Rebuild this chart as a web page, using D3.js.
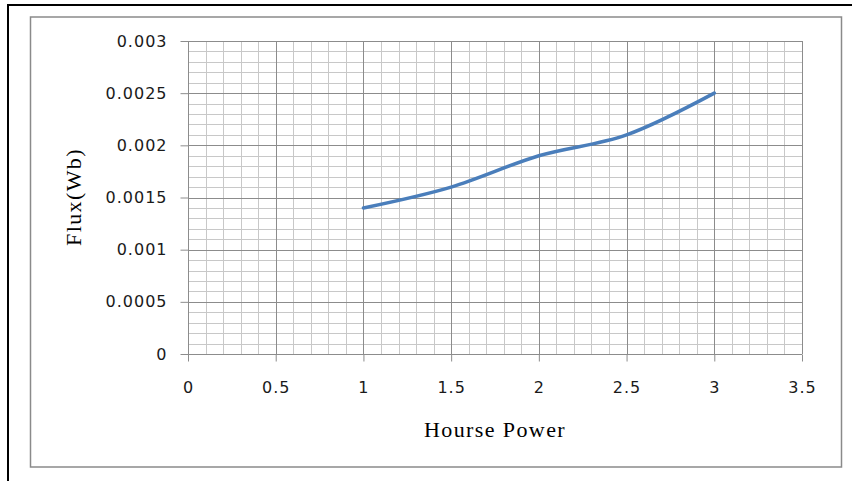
<!DOCTYPE html>
<html><head><meta charset="utf-8">
<script src="https://cdn.jsdelivr.net/npm/d3@7"></script>
<style>html,body{margin:0;padding:0;background:#fff;}svg{display:block;}</style>
</head><body>
<svg id="c" width="852" height="481"></svg>
<script>
const horsePower = [1, 1.5, 2, 2.5, 3];
const flux = [0.0014, 0.0016, 0.0019, 0.0021, 0.0025];
const xTicks = [0, 0.5, 1, 1.5, 2, 2.5, 3, 3.5];
const yTicks = [0, 0.0005, 0.001, 0.0015, 0.002, 0.0025, 0.003];
const xTitle = "Hourse Power";
const yTitle = "Flux(Wb)";

const svg = d3.select("#c");
// outer frame lines
svg.append("line").attr("x1",7).attr("x2",852).attr("y1",5).attr("y2",5).attr("stroke","#000").attr("stroke-width",2);
svg.append("line").attr("x1",8).attr("x2",8).attr("y1",4).attr("y2",481).attr("stroke","#000").attr("stroke-width",2);
// chart area border
svg.append("rect").attr("x",30.5).attr("y",17).attr("width",811).attr("height",450)
  .attr("fill","#fff").attr("stroke","#8a8a8a").attr("stroke-width",1.5);

const x = d3.scaleLinear().domain([0,3.5]).range([188,802]);
const y = d3.scaleLinear().domain([0,0.003]).range([354,41]);

const g = svg.append("g");
// minor grid
const xMinor = d3.range(0, 36).map(i => i/10);
const yMinor = d3.range(0, 31).map(i => i/10000);
g.selectAll(".vm").data(xMinor).join("line")
  .attr("x1", d=>Math.round(x(d))+0.5).attr("x2", d=>Math.round(x(d))+0.5)
  .attr("y1", y(0)).attr("y2", y(0.003)).attr("stroke","#c8c8c8").attr("stroke-width",1);
g.selectAll(".hm").data(yMinor).join("line")
  .attr("y1", d=>Math.round(y(d))+0.5).attr("y2", d=>Math.round(y(d))+0.5)
  .attr("x1", x(0)).attr("x2", x(3.5)).attr("stroke","#c8c8c8").attr("stroke-width",1);
// major grid
g.selectAll(".vM").data(xTicks).join("line")
  .attr("x1", d=>Math.round(x(d))+0.5).attr("x2", d=>Math.round(x(d))+0.5)
  .attr("y1", y(0)).attr("y2", y(0.003)).attr("stroke","#8c8c8c").attr("stroke-width",1);
g.selectAll(".hM").data(yTicks).join("line")
  .attr("y1", d=>Math.round(y(d))+0.5).attr("y2", d=>Math.round(y(d))+0.5)
  .attr("x1", x(0)).attr("x2", x(3.5)).attr("stroke","#8c8c8c").attr("stroke-width",1);

// axes
const xAxis = d3.axisBottom(x).tickValues(xTicks).tickSize(7).tickPadding(20).tickFormat(d=>String(d));
const yAxis = d3.axisLeft(y).tickValues(yTicks).tickSize(8).tickPadding(13).tickFormat(d=>String(+d.toFixed(4)));
const gx = svg.append("g").attr("transform",`translate(0,${Math.round(y(0))+0.5})`).call(xAxis);
const gy = svg.append("g").attr("transform",`translate(${Math.round(x(0))+0.5},0)`).call(yAxis);
[gx,gy].forEach(a=>{
  a.select(".domain").attr("stroke","#8c8c8c");
  a.selectAll(".tick line").attr("stroke","#8c8c8c");
  a.selectAll(".tick text").attr("font-family","'DejaVu Sans', Verdana, sans-serif")
    .attr("font-size",16).attr("letter-spacing","1px").attr("fill","#1a1a1a");
});
gx.select(".domain").attr("d", `M${x(0)},0H${x(3.5)}`);
gy.select(".domain").attr("d", `M0,${y(0)}V${y(0.003)}`);

// line
const pts = horsePower.map((d,i)=>[d, flux[i]]);
const line = d3.line().x(d=>x(d[0])).y(d=>y(d[1])).curve(d3.curveCardinal.tension(0));
svg.append("path").datum(pts).attr("d", line).attr("fill","none")
  .attr("stroke","#4a7ebb").attr("stroke-width",3.5).attr("stroke-linecap","round");

// titles
svg.append("text").attr("x",495).attr("y",437).attr("text-anchor","middle")
  .attr("font-family","'Liberation Serif','Times New Roman',serif").attr("font-size",22)
  .attr("letter-spacing","1.4px").text(xTitle);
svg.append("text").attr("transform","translate(81,197) rotate(-90)").attr("text-anchor","middle")
  .attr("font-family","'Liberation Serif','Times New Roman',serif").attr("font-size",22)
  .attr("letter-spacing","1.4px").text(yTitle);
</script>
</body></html>
